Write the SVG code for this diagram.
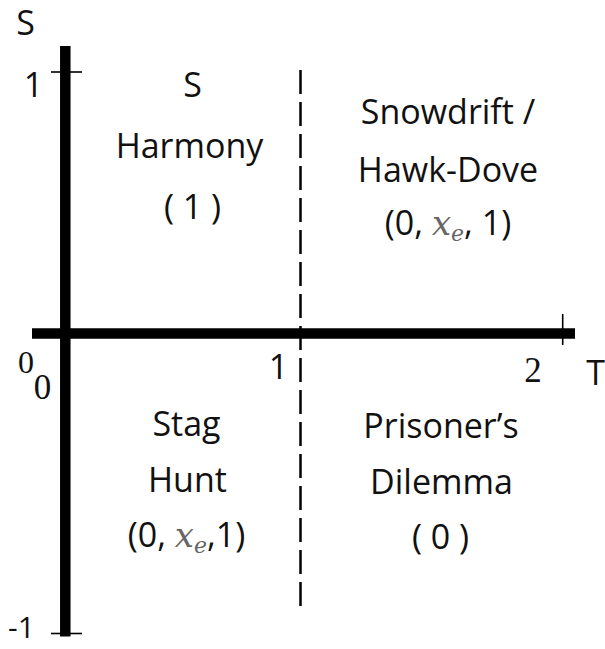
<svg xmlns="http://www.w3.org/2000/svg" width="605" height="649" viewBox="0 0 605 649">
  <style>
    .lbl { font-family: "Open Sans", "Noto Sans", sans-serif; font-size: 34px; fill: #111; text-anchor: middle; }
    .num { font-family: "Liberation Serif", serif; font-size: 35px; fill: #111; text-anchor: middle; }
    .xe { font-family: "DejaVu Serif", serif; font-style: italic; fill: #666; }
    .axis { stroke: #000; stroke-width: 10.5; fill: none; }
    .tick { stroke: #000; stroke-width: 1.6; fill: none; }
    .dash { stroke: #000; stroke-width: 2.5; stroke-dasharray: 24 8; fill: none; }
  </style>
  <rect width="605" height="649" fill="#fff"/>
  <g id="axes">
    <line class="axis" x1="65.3" y1="46" x2="65.3" y2="636.5"/>
    <line class="axis" x1="32" y1="333.6" x2="575" y2="333.6"/>
    <line class="tick" x1="51" y1="72" x2="82" y2="72"/>
    <line class="tick" x1="51" y1="633.5" x2="82" y2="633.5"/>
    <line class="tick" x1="562.7" y1="314" x2="562.7" y2="345"/>
    <line class="dash" x1="300.5" y1="70" x2="300.5" y2="606"/>
  </g>
  <g id="axis-labels">
    <text class="lbl" x="25.5" y="35">S</text>
    <text class="lbl" x="33.5" y="97">1</text>
    <text class="lbl" x="21.5" y="638" style="font-size:30px">-1</text>
    <text class="lbl" x="595.5" y="385">T</text>
    <text class="lbl" x="278.5" y="379">1</text>
    <text class="num" x="533" y="382">2</text>
    <text class="num" x="26" y="372.5" style="font-size:32px">0</text>
    <text class="num" x="42.5" y="399">0</text>
  </g>
  <g id="harmony">
    <text class="lbl" x="192.5" y="97">S</text>
    <text class="lbl" x="189.5" y="158">Harmony</text>
    <text class="lbl" x="192.5" y="219">( 1 )</text>
  </g>
  <g id="snowdrift">
    <text class="lbl" x="448" y="124">Snowdrift /</text>
    <text class="lbl" x="448" y="181.5">Hawk-Dove</text>
    <text class="lbl" x="448" y="235">(0, <tspan class="xe" font-size="34">x</tspan><tspan class="xe" font-size="22" dy="6">e</tspan><tspan dy="-6">, 1)</tspan></text>
  </g>
  <g id="stag-hunt">
    <text class="lbl" x="186.5" y="547">(0, <tspan class="xe" font-size="34">x</tspan><tspan class="xe" font-size="22" dy="6">e</tspan><tspan dy="-6">,1)</tspan></text>
    <text class="lbl" x="186.5" y="436">Stag</text>
    <text class="lbl" x="187.5" y="491.5">Hunt</text>
  </g>
  <g id="prisoners-dilemma">
    <text class="lbl" x="441" y="438">Prisoner’s</text>
    <text class="lbl" x="441.5" y="494">Dilemma</text>
    <text class="lbl" x="440.5" y="549">( 0 )</text>
  </g>
</svg>
